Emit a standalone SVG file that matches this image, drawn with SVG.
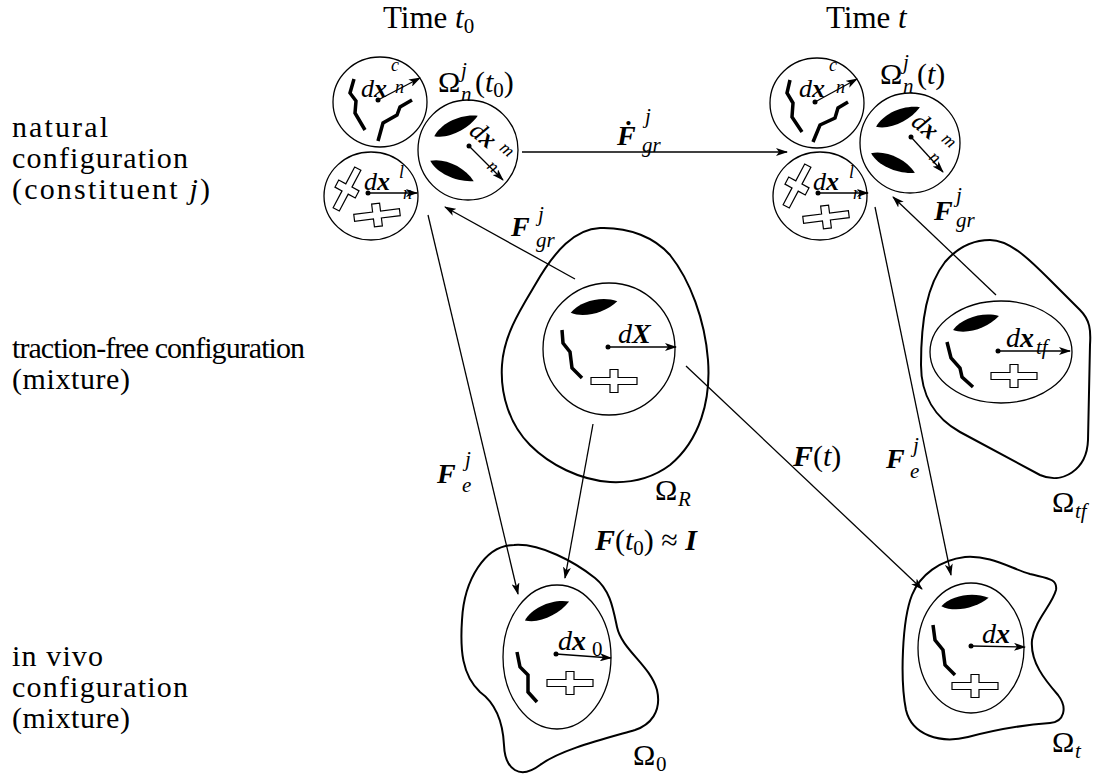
<svg xmlns="http://www.w3.org/2000/svg" xmlns:xlink="http://www.w3.org/1999/xlink" width="1103" height="774" viewBox="0 0 1103 774">
<style>
text { font-family: "Liberation Serif", "DejaVu Serif", serif; fill: #000; }
.lbl { font-size: 30px; }
.it { font-style: italic; }
.bi { font-style: italic; font-weight: bold; }
.s31 { font-size: 31px; }
.s30 { font-size: 30px; }
.s28 { font-size: 28px; }
.s26 { font-size: 26px; }
.s21 { font-size: 21px; }
.s18 { font-size: 18px; }
.blob { fill: none; stroke: #000; stroke-width: 2; }
.cell { fill: none; stroke: #000; stroke-width: 1.3; }
.conn { fill: none; stroke: #000; stroke-width: 1.3; marker-end: url(#ah); }
.vec { fill: none; stroke: #000; stroke-width: 1.3; marker-end: url(#ah); }
.zig { fill: none; stroke: #000; stroke-width: 3.5; stroke-linejoin: miter; }
.dot { fill: #000; }
</style>
<defs>
<marker id="ah" markerUnits="userSpaceOnUse" viewBox="0 0 12 8" refX="11" refY="4" markerWidth="12" markerHeight="8" orient="auto">
<path d="M0,0 L12,4 L0,8 L3,4 Z" fill="#000"/>
</marker>
<path id="leaf" d="M-24,0 C-12,-9 10,-9 24,0 C10,8 -12,9 -24,0 Z" fill="#000"/>
<path id="cross" d="M-23,-3.5 H-4 V-11.5 H4 V-3.5 H23 V3.5 H4 V11.5 H-4 V3.5 H-23 Z" fill="#fff" stroke="#000" stroke-width="1.2"/>
</defs>
<rect width="1103" height="774" fill="#fff"/>

<g id="row-labels">
<text class="lbl" x="12" y="137" textLength="96">natural</text>
<text class="lbl" x="12" y="168" textLength="176">configuration</text>
<text class="lbl" x="12" y="199" textLength="198">(constituent <tspan class="it">j</tspan>)</text>
<text class="lbl" x="12" y="358" textLength="293">traction-free configuration</text>
<text class="lbl" x="12" y="389" textLength="118">(mixture)</text>
<text class="lbl" x="12" y="666" textLength="91">in vivo</text>
<text class="lbl" x="12" y="697" textLength="176">configuration</text>
<text class="lbl" x="12" y="728" textLength="118">(mixture)</text>
</g>

<g id="col-labels">
<text class="s31" x="383" y="28">Time <tspan class="it">t</tspan><tspan class="s21" dy="5">0</tspan></text>
<text class="s31" x="826" y="28">Time <tspan class="it">t</tspan></text>
</g>

<g id="natural-t0">
<ellipse class="cell" cx="380" cy="102" rx="47" ry="45"/>
<polyline class="zig" points="354,79 350,93 356,101 355,113 365,130"/>
<polyline class="zig" points="412,100 400,107 397,115 383,123 378,141"/>
<circle class="dot" cx="378" cy="100" r="2.5"/>
<line class="vec" x1="378" y1="100" x2="420" y2="78"/>
<text class="it s26" x="361" y="97">d<tspan class="bi">x</tspan></text>
<text class="it s18" x="391" y="71">c</text>
<text class="it s18" x="395" y="93">n</text>

<circle class="cell" cx="468" cy="150" r="50"/>
<use xlink:href="#leaf" transform="translate(456,126) rotate(-25)"/>
<use xlink:href="#leaf" transform="translate(452,171) rotate(25)"/>
<circle class="dot" cx="469" cy="146" r="2.5"/>
<line class="vec" x1="469" y1="146" x2="503" y2="180"/>
<g transform="translate(468,133) rotate(40)">
<text class="it s26" x="0" y="0">d<tspan class="bi">x</tspan></text>
<text class="it s18" x="34" y="-7">m</text>
<text class="it s18" x="36" y="15">n</text>
</g>

<ellipse class="cell" cx="371" cy="196" rx="47" ry="44"/>
<use xlink:href="#cross" transform="translate(347,189) rotate(-62)"/>
<use xlink:href="#cross" transform="translate(377,215) rotate(-7)"/>
<circle class="dot" cx="368" cy="193" r="2.5"/>
<line class="vec" x1="368" y1="193" x2="417" y2="193"/>
<text class="it s26" x="364" y="190">d<tspan class="bi">x</tspan></text>
<text class="it s18" x="399" y="178">l</text>
<text class="it s18" x="403" y="199">n</text>

<text class="s30" x="438" y="92">Ω</text>
<text class="it s21" x="461" y="77">j</text>
<text class="it s21" x="461" y="101">n</text>
<text class="s30" x="475" y="92">(<tspan class="it">t</tspan><tspan class="s21" dy="5">0</tspan><tspan dy="-5">)</tspan></text>
</g>

<g id="natural-t">
<ellipse class="cell" cx="817" cy="103" rx="47" ry="45"/>
<polyline class="zig" points="790,80 787,93 793,103 792,117 802,132"/>
<polyline class="zig" points="848,102 838,108 835,118 820,125 813,142"/>
<circle class="dot" cx="815" cy="102" r="2.5"/>
<line class="vec" x1="815" y1="102" x2="857" y2="79"/>
<text class="it s26" x="799" y="97">d<tspan class="bi">x</tspan></text>
<text class="it s18" x="829" y="71">c</text>
<text class="it s18" x="836" y="93">n</text>

<circle class="cell" cx="910" cy="143" r="50"/>
<use xlink:href="#leaf" transform="translate(898,117) rotate(-24)"/>
<use xlink:href="#leaf" transform="translate(893,163) rotate(24)"/>
<circle class="dot" cx="911" cy="137" r="2.5"/>
<line class="vec" x1="911" y1="137" x2="943" y2="172"/>
<g transform="translate(910,124) rotate(40)">
<text class="it s26" x="0" y="0">d<tspan class="bi">x</tspan></text>
<text class="it s18" x="34" y="-7">m</text>
<text class="it s18" x="36" y="15">n</text>
</g>

<ellipse class="cell" cx="820" cy="196" rx="47" ry="44"/>
<use xlink:href="#cross" transform="translate(797,186) rotate(-62)"/>
<use xlink:href="#cross" transform="translate(826,217) rotate(-7)"/>
<circle class="dot" cx="818" cy="193" r="2.5"/>
<line class="vec" x1="818" y1="193" x2="868" y2="193"/>
<text class="it s26" x="813" y="190">d<tspan class="bi">x</tspan></text>
<text class="it s18" x="849" y="178">l</text>
<text class="it s18" x="853" y="199">n</text>

<text class="s30" x="880" y="84">Ω</text>
<text class="it s21" x="903" y="69">j</text>
<text class="it s21" x="903" y="93">n</text>
<text class="s30" x="917" y="84">(<tspan class="it">t</tspan>)</text>
</g>

<g id="omega-R">
<path class="blob" d="M600,228 C630,227 655,238 670,255 C690,280 705,320 708,360 C711,400 700,440 670,465 C650,480 630,483 610,482 C580,480 550,465 530,445 C510,425 500,395 502,365 C504,335 520,310 535,285 C555,250 575,229 600,228 Z"/>
<circle class="cell" cx="609" cy="349" r="66"/>
<use xlink:href="#leaf" transform="translate(594,307) rotate(-14)"/>
<polyline class="zig" points="562,330 563,343 570,352 572,368 582,378"/>
<use xlink:href="#cross" transform="translate(614,381)"/>
<circle class="dot" cx="608" cy="347" r="2.5"/>
<line class="vec" x1="608" y1="347" x2="676" y2="347"/>
<text class="it s28" x="618" y="343">d<tspan class="bi">X</tspan></text>
<text class="s30" x="655" y="500">Ω</text>
<text class="it s21" x="678" y="506">R</text>
</g>

<g id="omega-tf">
<path class="blob" d="M990,240 C1010,240 1030,260 1050,280 L1080,310 C1090,320 1091,330 1090,345 L1088,440 C1087,470 1062,485 1040,475 L960,432 C935,418 921,395 921,365 C921,320 927,285 945,262 C958,247 972,240 990,240 Z"/>
<ellipse class="cell" cx="1001" cy="352" rx="71" ry="51"/>
<use xlink:href="#leaf" transform="translate(976,323) rotate(-17)"/>
<polyline class="zig" points="947,342 951,358 960,368 962,377 973,387"/>
<use xlink:href="#cross" transform="translate(1014,376)"/>
<circle class="dot" cx="998" cy="351" r="2.5"/>
<line class="vec" x1="998" y1="351" x2="1070" y2="351"/>
<text class="it s28" x="1006" y="347">d<tspan class="bi">x</tspan></text>
<text class="it s21" x="1036" y="354">tf</text>
<text class="s30" x="1052" y="512">Ω</text>
<text class="it s21" x="1075" y="518">tf</text>
</g>

<g id="omega-0">
<path class="blob" d="M514,545 C540,543 575,562 595,578 C610,590 613,608 617,627 C622,650 650,665 657,690 C662,712 650,725 635,730 C600,740 560,750 540,765 C520,780 505,770 504,745 C503,725 498,705 480,692 C462,675 460,650 462,620 C464,580 485,545 514,545 Z"/>
<ellipse class="cell" cx="557" cy="657" rx="54" ry="72"/>
<use xlink:href="#leaf" transform="translate(547,611) rotate(-23)"/>
<polyline class="zig" points="517,652 520,667 528,675 528,692 537,702"/>
<use xlink:href="#cross" transform="translate(570,683)"/>
<circle class="dot" cx="556" cy="654" r="2.5"/>
<line class="vec" x1="556" y1="654" x2="611" y2="658"/>
<text class="it s28" x="558" y="650">d<tspan class="bi">x</tspan></text>
<text class="s21" x="592" y="656">0</text>
<text class="s30" x="633" y="765">Ω</text>
<text class="s21" x="656" y="771">0</text>
</g>

<g id="omega-t">
<path class="blob" d="M912,595 C920,575 940,560 965,557 C990,555 1010,568 1030,574 C1045,578 1058,578 1056,590 C1052,605 1035,620 1032,640 C1030,662 1045,680 1058,695 C1068,708 1064,722 1050,723 C1020,725 995,730 968,737 C940,744 912,735 906,710 C900,680 902,620 912,595 Z"/>
<ellipse class="cell" cx="971" cy="648" rx="53" ry="65"/>
<use xlink:href="#leaf" transform="translate(965,602) rotate(-10)"/>
<polyline class="zig" points="933,625 935,640 943,650 945,665 955,675"/>
<use xlink:href="#cross" transform="translate(975,686)"/>
<circle class="dot" cx="971" cy="646" r="2.5"/>
<line class="vec" x1="971" y1="646" x2="1025" y2="647"/>
<text class="it s28" x="982" y="643">d<tspan class="bi">x</tspan></text>
<text class="s30" x="1052" y="752">Ω</text>
<text class="it s21" x="1075" y="758">t</text>
</g>

<g id="connectors">
<line class="conn" x1="522" y1="152" x2="787" y2="152"/>
<line class="conn" x1="575" y1="279" x2="445" y2="207"/>
<line class="conn" x1="996" y1="295" x2="893" y2="197"/>
<line class="conn" x1="428" y1="215" x2="518" y2="594"/>
<line class="conn" x1="875" y1="207" x2="951" y2="575"/>
<line class="conn" x1="593" y1="424" x2="565" y2="578"/>
<line class="conn" x1="686" y1="366" x2="922" y2="589"/>

<text class="bi s28" x="617" y="145">Ḟ</text>
<text class="it s21" x="645" y="123">j</text>
<text class="it s21" x="642" y="152">gr</text>

<text class="bi s28" x="511" y="236">F</text>
<text class="it s21" x="538" y="221">j</text>
<text class="it s21" x="536" y="247">gr</text>

<text class="bi s28" x="934" y="220">F</text>
<text class="it s21" x="956" y="202">j</text>
<text class="it s21" x="956" y="227">gr</text>

<text class="bi s28" x="437" y="483">F</text>
<text class="it s21" x="465" y="466">j</text>
<text class="it s21" x="462" y="492">e</text>

<text class="bi s28" x="886" y="468">F</text>
<text class="it s21" x="913" y="452">j</text>
<text class="it s21" x="910" y="478">e</text>

<text class="s30" x="793" y="466"><tspan class="bi">F</tspan>(<tspan class="it">t</tspan>)</text>

<text class="s30" x="595" y="550"><tspan class="bi">F</tspan>(<tspan class="it">t</tspan><tspan class="s21" dy="5">0</tspan><tspan dy="-5">) ≈ </tspan><tspan class="bi">I</tspan></text>
</g>
</svg>
